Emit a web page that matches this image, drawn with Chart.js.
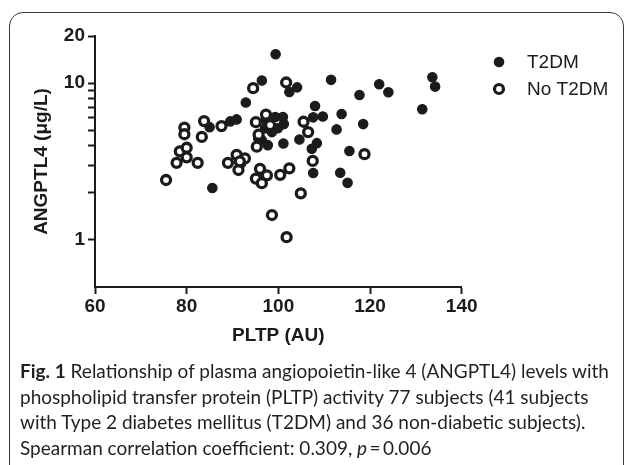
<!DOCTYPE html>
<html><head><meta charset="utf-8">
<script src="https://cdn.jsdelivr.net/npm/chart.js@4.4.1/dist/chart.umd.min.js"></script>
<style>
html,body{margin:0;padding:0;background:#fff;width:627px;height:465px;overflow:hidden;}
#frame{position:absolute;left:9px;top:12px;width:615px;height:480px;border:1.5px solid #3a3a3a;border-radius:14px;box-sizing:border-box;}
#wrap{position:absolute;left:0;top:0;width:627px;height:360px;}
#caption{position:absolute;left:20px;top:358px;font-family:Lato,"Open Sans",sans-serif;color:#231f20;font-size:17px;line-height:25.7px;white-space:nowrap;}
#caption b{font-weight:700;}
</style></head><body>
<div id="frame"></div>
<div id="wrap"><canvas id="c" width="627" height="360"></canvas></div>
<div id="caption"><div class="ln"><span id="l1"><b>Fig. 1</b> Relationship of plasma angiopoietin-like 4 (ANGPTL4) levels with</span></div><div class="ln">phospholipid transfer protein (PLTP) activity 77 subjects (41 subjects</div><div class="ln">with Type 2 diabetes mellitus (T2DM) and 36 non-diabetic subjects).</div><div class="ln">Spearman correlation coefficient: 0.309, <i>p</i>&#8201;=&#8201;0.006</div></div>
<script>
// ---- data ----
const seriesLabels = ['T2DM', 'No T2DM'];
const xTicks = [60, 80, 100, 120, 140];
const yTicks = [1, 2, 3, 4, 5, 6, 7, 8, 9, 10, 20];
const yTickLabels = [1, 10, 20];
const xTitle = 'PLTP (AU)';
const yTitle = 'ANGPTL4 (μg/L)';

const t2dmX = [85.0, 85.6, 89.5, 90.9, 92.9, 91.9, 96.4, 99.4, 104.1, 102.4, 101.1, 104.6, 108.0, 107.6, 109.7, 111.5, 113.8, 112.7, 117.7, 118.5, 122.0, 124.0, 133.6, 134.2, 131.4, 115.5, 113.5, 115.1, 107.3, 107.6, 108.4, 97.3, 99.3, 101.0, 101.2, 99.9, 97.1, 98.6, 96.4, 97.7, 95.6];
const t2dmY = [5.24, 2.14, 5.70, 5.87, 7.53, 3.08, 10.4, 15.3, 9.40, 8.79, 4.12, 4.37, 7.15, 6.05, 6.12, 10.5, 6.35, 5.07, 8.41, 5.48, 9.85, 8.75, 10.9, 9.51, 6.81, 3.69, 2.68, 2.31, 3.81, 2.67, 4.14, 5.81, 6.08, 6.08, 5.48, 5.16, 5.16, 4.87, 4.32, 4.02, 4.45];

const noX = [75.5, 77.8, 78.5, 80.0, 80.0, 79.5, 79.5, 82.4, 83.3, 83.8, 87.6, 89.0, 90.9, 91.3, 92.7, 94.5, 101.7, 95.1, 97.3, 95.7, 95.3, 96.0, 97.5, 95.1, 96.4, 100.4, 102.4, 104.9, 98.6, 101.8, 105.5, 106.5, 107.5, 118.8, 98.2, 91.6];
const noY = [2.41, 3.10, 3.67, 3.87, 3.36, 5.20, 4.72, 3.10, 4.54, 5.73, 5.32, 3.10, 3.49, 2.79, 3.31, 9.29, 10.1, 5.64, 6.30, 4.69, 3.93, 2.84, 2.58, 2.46, 2.30, 2.60, 2.86, 1.98, 1.44, 1.04, 5.67, 4.87, 3.19, 3.52, 5.40, 3.17];

// ---- style ----
const INK = '#1b1b1b';
const AX_FONT = '"Liberation Sans", Arial, sans-serif';

const legendPlugin = {
  id: 'customLegend',
  afterDraw(chart) {
    const ctx = chart.ctx;
    const items = [
      {y: 62, filled: true, text: chart.data.datasets[0].label},
      {y: 89, filled: false, text: chart.data.datasets[1].label}
    ];
    ctx.save();
    ctx.font = '19px ' + AX_FONT;
    ctx.textBaseline = 'middle';
    ctx.fillStyle = INK;
    items.forEach(it => {
      ctx.beginPath();
      if (it.filled) {
        ctx.arc(499, it.y, 5.3, 0, Math.PI * 2);
        ctx.fillStyle = INK; ctx.fill();
      } else {
        ctx.arc(499, it.y, 4.5, 0, Math.PI * 2);
        ctx.fillStyle = '#fff'; ctx.fill();
        ctx.lineWidth = 3.2; ctx.strokeStyle = INK; ctx.stroke();
      }
      ctx.fillStyle = INK;
      ctx.fillText(it.text, 527, it.y + 1);
    });
    ctx.restore();
  }
};

// shift the y title slightly upward, as in the reference
const yTitleShift = {
  id: 'yTitleShift'
};

new Chart(document.getElementById('c'), {
  type: 'scatter',
  data: {
    datasets: [
      {label: seriesLabels[0], data: t2dmX.map((x, i) => ({x, y: t2dmY[i]})),
       backgroundColor: INK, borderColor: INK, pointRadius: 4.7, borderWidth: 1.2, order: 2},
      {label: seriesLabels[1], data: noX.map((x, i) => ({x, y: noY[i]})),
       backgroundColor: '#fff', borderColor: INK, pointRadius: 4.5, borderWidth: 3.3, order: 1}
    ]
  },
  options: {
    responsive: false,
    animation: false,
    devicePixelRatio: 1,
    layout: {padding: {left: 30.6, top: 36, right: 165.3, bottom: 12.6}},
    plugins: {legend: {display: false}, tooltip: {enabled: false}},
    scales: {
      x: {
        type: 'linear', min: 60, max: 140,
        afterBuildTicks: s => { s.ticks = xTicks.map(v => ({value: v})); },
        afterFit: s => { s.height = 60.4; },
        ticks: {color: INK, font: {family: AX_FONT, size: 19, weight: 'bold'}, padding: 1, autoSkip: false, maxRotation: 0},
        grid: {drawOnChartArea: false, drawTicks: true, tickLength: 7, tickWidth: 2, tickColor: INK},
        border: {display: true, color: INK, width: 2},
        title: {display: true, text: xTitle, color: INK, font: {family: AX_FONT, size: 19, weight: 'bold'}, padding: 0}
      },
      y: {
        type: 'logarithmic', min: 0.5, max: 20,
        afterBuildTicks: s => { s.ticks = yTicks.map(v => ({value: v})); },
        afterFit: s => { s.width = 64.4; },
        ticks: {color: INK, font: {family: AX_FONT, size: 19, weight: 'bold'}, padding: 3, autoSkip: false,
                callback: v => yTickLabels.includes(v) ? String(v) : ''},
        grid: {drawOnChartArea: false, drawTicks: true, tickLength: 7, tickWidth: 2, tickColor: INK},
        border: {display: true, color: INK, width: 2},
        title: {display: true, text: yTitle, color: INK, font: {family: AX_FONT, size: 19, weight: 'bold'}, padding: 0, align: 'center'}
      }
    }
  },
  plugins: [legendPlugin]
});

// fit caption width to reference
const l1 = document.getElementById('l1');
const w = l1.getBoundingClientRect().width;
const fs = parseFloat(getComputedStyle(document.getElementById('caption')).fontSize);
document.getElementById('caption').style.fontSize = (fs * 589 / w).toFixed(2) + 'px';
</script>
</body></html>
